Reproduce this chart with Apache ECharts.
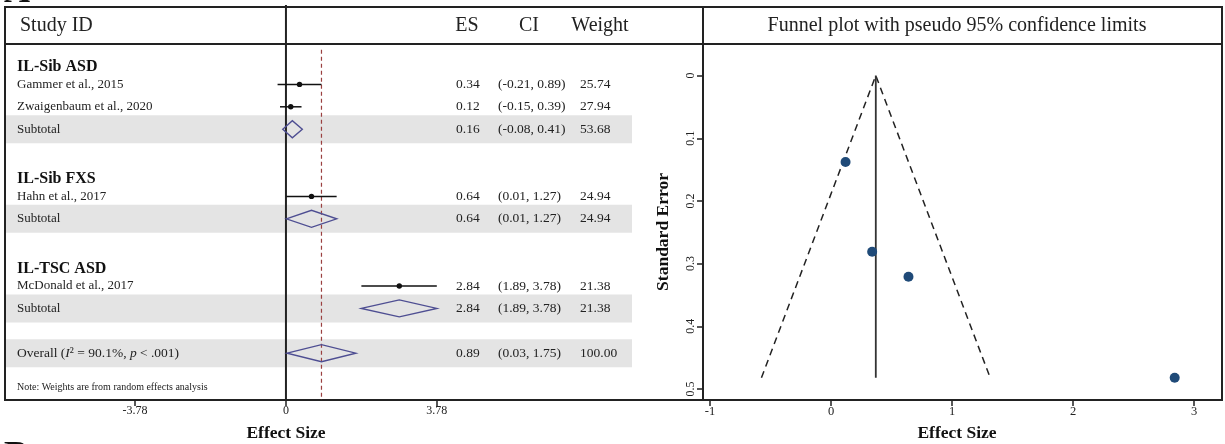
<!DOCTYPE html>
<html><head><meta charset="utf-8">
<script src="https://cdn.jsdelivr.net/npm/echarts@6/dist/echarts.min.js"></script>
<style>html,body{margin:0;padding:0;background:#fff}#c{width:1225px;height:444px}</style>
</head><body><div id="c"></div>
<script>
const SERIF = '"Liberation Serif","Times New Roman",serif';
// ---------- Forest plot data ----------
const groupNames = ['IL-Sib ASD', 'IL-Sib FXS', 'IL-TSC ASD'];
const groupRows = [0, 5, 9];
const studyNames = ['Gammer et al., 2015', 'Zwaigenbaum et al., 2020', 'Hahn et al., 2017', 'McDonald et al., 2017'];
const studyRows = [1, 2, 6, 10];
const studyES = [0.34, 0.12, 0.64, 2.84];
const studyLo = [-0.21, -0.15, 0.01, 1.89];
const studyHi = [0.89, 0.39, 1.27, 3.78];
const studyWeight = [25.74, 27.94, 24.94, 21.38];
const pooledNames = ['Subtotal', 'Subtotal', 'Subtotal', 'Overall'];
const pooledRows = [3, 7, 11, 13];
const pooledES = [0.16, 0.64, 2.84, 0.89];
const pooledLo = [-0.08, 0.01, 1.89, 0.03];
const pooledHi = [0.41, 1.27, 3.78, 1.75];
const pooledWeight = [53.68, 24.94, 21.38, 100.00];
const overallES = 0.89;
const forestTicks = [-3.78, 0, 3.78];
const headerLabels = ['Study ID', 'ES', 'CI', 'Weight'];
const noteText = 'Note: Weights are from random effects analysis';
// ---------- Funnel plot data ----------
const funnelTitle = 'Funnel plot with pseudo 95% confidence limits';
const funnelES = [0.34, 0.12, 0.64, 2.84];
const funnelSE = [0.281, 0.138, 0.321, 0.482];
const funnelPooled = 0.37;
const funnelSEmax = 0.482;
const funnelLimitLo = -0.575;
const funnelLimitHi = 1.315;
const funnelXTicks = [-1, 0, 1, 2, 3];
const funnelYTicks = [0, 0.1, 0.2, 0.3, 0.4, 0.5];

const INK = '#222';
const DIA = '#4e4e92';
const COL_NAME = 17, COL_ES = 456, COL_CI = 498, COL_W = 580;
const F = 13.5;

function txt(s, x, y, opts) {
  return {
    type: 'text',
    style: Object.assign({ text: s, x: x, y: y, fill: INK, fontFamily: SERIF, fontSize: F,
      align: 'left', verticalAlign: 'middle', textAlign: 'left', textVerticalAlign: 'middle' }, opts || {})
  };
}
function ci(lo, hi) { return '(' + lo.toFixed(2) + ', ' + hi.toFixed(2) + ')'; }

const chart = echarts.init(document.getElementById('c'), null, { renderer: 'canvas' });

const option = {
  animation: false,
  backgroundColor: '#fff',
  grid: [
    { left: 5, top: 5, width: 698, height: 395 },
    { left: 703, top: 43, width: 519, height: 357 }
  ],
  xAxis: [
    { gridIndex: 0, type: 'value', min: -7.04, max: 10.45, position: 'bottom',
      axisLine: { show: true, onZero: false, lineStyle: { color: INK, width: 2 } },
      axisTick: { show: true, customValues: forestTicks, length: 6, lineStyle: { color: INK, width: 1.5 } },
      axisLabel: { customValues: forestTicks, fontSize: 12, fontFamily: SERIF, color: INK, margin: 5,
        formatter: v => String(v) },
      splitLine: { show: false } },
    { gridIndex: 1, type: 'value', min: -1.058, max: 3.231, position: 'bottom',
      axisLine: { show: true, onZero: false, lineStyle: { color: INK, width: 2 } },
      axisTick: { show: true, customValues: funnelXTicks, length: 6, lineStyle: { color: INK, width: 1.5 } },
      axisLabel: { customValues: funnelXTicks, fontSize: 12.5, fontFamily: SERIF, color: INK, margin: 5 },
      splitLine: { show: false } }
  ],
  yAxis: [
    { gridIndex: 0, type: 'value', inverse: true, min: -2.545, max: 15.09, show: false },
    { gridIndex: 1, type: 'value', inverse: true, min: -0.052, max: 0.5176, position: 'left',
      axisLine: { show: true, onZero: false, lineStyle: { color: INK, width: 2 } },
      axisTick: { show: true, customValues: funnelYTicks, length: 6, lineStyle: { color: INK, width: 1.5 } },
      axisLabel: { customValues: funnelYTicks, rotate: 90, fontSize: 12, fontFamily: SERIF, color: INK, margin: 6 },
      splitLine: { show: false } }
  ],
  series: [
    { type: 'custom', xAxisIndex: 0, yAxisIndex: 0, z: 1, silent: true,
      data: pooledRows.map(r => [0, r]),
      renderItem: (params, api) => {
        const y = api.coord([0, api.value(1)])[1];
        return { type: 'rect', shape: { x: 6, y: y - 14, width: 626, height: 28 }, style: { fill: '#e4e4e4' } };
      } },
    { type: 'custom', xAxisIndex: 0, yAxisIndex: 0, z: 3, silent: true,
      data: [[0, -2.545, 15.09, 0], [overallES, -0.55, 15.09, 1]],
      renderItem: (params, api) => {
        const a = api.coord([api.value(0), api.value(1)]);
        const b = api.coord([api.value(0), api.value(2)]);
        const dashed = api.value(3) === 1;
        return { type: 'line', shape: { x1: a[0], y1: a[1], x2: b[0], y2: b[1] },
          style: dashed ? { stroke: '#9a4040', lineWidth: 1.2, lineDash: [4, 3] } : { stroke: INK, lineWidth: 2 } };
      } },
    { type: 'custom', xAxisIndex: 0, yAxisIndex: 0, z: 4, silent: true,
      data: groupRows.map((r, i) => [0, r, i]),
      renderItem: (params, api) => {
        const y = api.coord([0, api.value(1)])[1] + 5;
        return txt(groupNames[api.value(2)], COL_NAME, y, { fontSize: 16, fontWeight: 'bold', fill: '#111' });
      } },
    { type: 'custom', xAxisIndex: 0, yAxisIndex: 0, z: 4, silent: true,
      data: studyRows.map((r, i) => [studyES[i], r, studyLo[i], studyHi[i], i]),
      renderItem: (params, api) => {
        const i = api.value(4);
        const p = api.coord([api.value(0), api.value(1)]);
        const a = api.coord([api.value(2), api.value(1)]);
        const b = api.coord([api.value(3), api.value(1)]);
        return { type: 'group', children: [
          { type: 'line', shape: { x1: a[0], y1: p[1], x2: b[0], y2: p[1] }, style: { stroke: '#111', lineWidth: 1.5 } },
          { type: 'circle', shape: { cx: p[0], cy: p[1], r: 2.7 }, style: { fill: '#111' } },
          txt(studyNames[i], COL_NAME, p[1], { fontSize: 13 }),
          txt(studyES[i].toFixed(2), COL_ES, p[1]),
          txt(ci(studyLo[i], studyHi[i]), COL_CI, p[1]),
          txt(studyWeight[i].toFixed(2), COL_W, p[1])
        ] };
      } },
    { type: 'custom', xAxisIndex: 0, yAxisIndex: 0, z: 4, silent: true,
      data: pooledRows.map((r, i) => [pooledES[i], r, pooledLo[i], pooledHi[i], i]),
      renderItem: (params, api) => {
        const i = api.value(4);
        const p = api.coord([api.value(0), api.value(1)]);
        const a = api.coord([api.value(2), api.value(1)]);
        const b = api.coord([api.value(3), api.value(1)]);
        const h = 8.5;
        const isOverall = pooledNames[i] === 'Overall';
        const label = isOverall
          ? { type: 'text', style: { text: '{n|Overall (}{i|I}{n|² = 90.1%, }{i|p}{n| < .001)}', x: COL_NAME, y: p[1],
                fill: INK, fontFamily: SERIF, fontSize: F, align: 'left', verticalAlign: 'middle',
                textAlign: 'left', textVerticalAlign: 'middle',
                rich: { n: { fontFamily: SERIF, fontSize: F, fill: INK }, i: { fontFamily: SERIF, fontSize: F, fontStyle: 'italic', fill: INK } } } }
          : txt(pooledNames[i], COL_NAME, p[1], { fontSize: 13 });
        return { type: 'group', children: [
          { type: 'polygon', shape: { points: [[a[0], p[1]], [p[0], p[1] - h], [b[0], p[1]], [p[0], p[1] + h]] },
            style: { fill: 'none', stroke: DIA, lineWidth: 1.4 } },
          label,
          txt(pooledES[i].toFixed(2), COL_ES, p[1]),
          txt(ci(pooledLo[i], pooledHi[i]), COL_CI, p[1]),
          txt(pooledWeight[i].toFixed(2), COL_W, p[1])
        ] };
      } },
    { type: 'line', xAxisIndex: 1, yAxisIndex: 1, symbol: 'none', silent: true, z: 3,
      data: [[funnelLimitLo, funnelSEmax], [funnelPooled, 0], [funnelLimitHi, funnelSEmax]],
      lineStyle: { color: INK, width: 1.5, type: [7, 5] } },
    { type: 'line', xAxisIndex: 1, yAxisIndex: 1, symbol: 'none', silent: true, z: 3,
      data: [[funnelPooled, 0], [funnelPooled, funnelSEmax]],
      lineStyle: { color: '#333', width: 1.8 } },
    { type: 'scatter', xAxisIndex: 1, yAxisIndex: 1, symbolSize: 10, z: 5,
      data: funnelES.map((e, i) => [e, funnelSE[i]]),
      itemStyle: { color: '#1f4a78', opacity: 1 } }
  ],
  graphic: [
    { type: 'line', z: 100, shape: { x1: 5, y1: 7, x2: 1223, y2: 7 }, style: { stroke: INK, lineWidth: 2 } },
    { type: 'line', z: 100, shape: { x1: 5, y1: 44, x2: 1223, y2: 44 }, style: { stroke: INK, lineWidth: 2 } },
    { type: 'line', z: 100, shape: { x1: 5, y1: 6, x2: 5, y2: 401 }, style: { stroke: INK, lineWidth: 2 } },
    { type: 'line', z: 100, shape: { x1: 703, y1: 6, x2: 703, y2: 401 }, style: { stroke: INK, lineWidth: 2 } },
    { type: 'line', z: 100, shape: { x1: 1222, y1: 6, x2: 1222, y2: 401 }, style: { stroke: INK, lineWidth: 2 } },
    { type: 'text', z: 100, style: { text: headerLabels[0], x: 20, y: 26, fontSize: 20, fontFamily: SERIF, fill: INK, verticalAlign: 'middle' } },
    { type: 'text', z: 100, style: { text: headerLabels[1], x: 467, y: 26, fontSize: 20, fontFamily: SERIF, fill: INK, align: 'center', verticalAlign: 'middle' } },
    { type: 'text', z: 100, style: { text: headerLabels[2], x: 529, y: 26, fontSize: 20, fontFamily: SERIF, fill: INK, align: 'center', verticalAlign: 'middle' } },
    { type: 'text', z: 100, style: { text: headerLabels[3], x: 600, y: 26, fontSize: 20, fontFamily: SERIF, fill: INK, align: 'center', verticalAlign: 'middle' } },
    { type: 'text', z: 100, style: { text: funnelTitle, x: 957, y: 26, fontSize: 20, fontFamily: SERIF, fill: INK, align: 'center', verticalAlign: 'middle' } },
    { type: 'text', z: 100, style: { text: noteText, x: 17, y: 387, fontSize: 10, fontFamily: SERIF, fill: INK, verticalAlign: 'middle' } },
    { type: 'text', z: 100, style: { text: 'Effect Size', x: 286, y: 433, fontSize: 17.5, fontWeight: 'bold', fontFamily: SERIF, fill: '#111', align: 'center', verticalAlign: 'middle' } },
    { type: 'text', z: 100, style: { text: 'Effect Size', x: 957, y: 433, fontSize: 17.5, fontWeight: 'bold', fontFamily: SERIF, fill: '#111', align: 'center', verticalAlign: 'middle' } },
    { type: 'text', z: 100, x: 663, y: 232, rotation: Math.PI / 2,
      style: { text: 'Standard Error', x: 0, y: 0, fontSize: 17.5, fontWeight: 'bold', fontFamily: SERIF, fill: '#111', align: 'center', verticalAlign: 'middle' } },
    { type: 'text', z: 100, style: { text: 'A', x: 4, y: -7, fontSize: 36, fontWeight: 'bold', fontFamily: SERIF, fill: '#111', verticalAlign: 'middle' } },
    { type: 'text', z: 100, style: { text: 'B', x: 4, y: 439, fontSize: 36, fontWeight: 'bold', fontFamily: SERIF, fill: '#111', verticalAlign: 'top' } }
  ]
};
chart.setOption(option);
</script>
</body></html>
